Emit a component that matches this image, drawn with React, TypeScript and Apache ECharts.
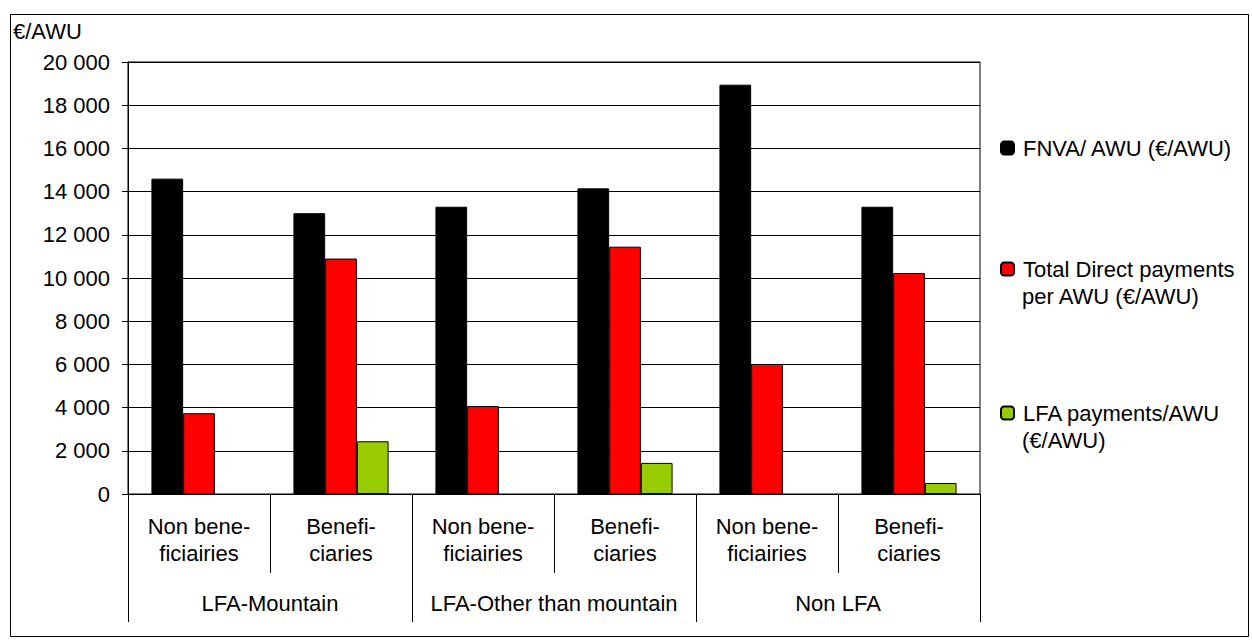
import React, { useEffect, useRef } from "react";
import * as echarts from "echarts";

const subCategories = [
  "Non bene-\nficiairies",
  "Benefi-\nciaries",
  "Non bene-\nficiairies",
  "Benefi-\nciaries",
  "Non bene-\nficiairies",
  "Benefi-\nciaries",
];
const groupCategories = ["LFA-Mountain", "LFA-Other than mountain", "Non LFA"];
const seriesNames = [
  "FNVA/ AWU (€/AWU)",
  "Total Direct payments per AWU (€/AWU)",
  "LFA payments/AWU (€/AWU)",
];
const fnvaValues = [14600, 13000, 13300, 14150, 18950, 13300];
const directValues = [3740, 10900, 4070, 11450, 6020, 10230];
const lfaValues = [null, 2440, null, 1440, null, 510];
const yTicks = { min: 0, max: 20000, interval: 2000 };
const unitLabel = "€/AWU";

const FONT = "'Liberation Sans', Arial, sans-serif";
const FS = 22;

export default function App() {
  const ref = useRef<HTMLDivElement>(null);
  useEffect(() => {
    document.body.style.margin = "0";
    if (!ref.current) return;
    const chart = echarts.init(ref.current, null, { renderer: "svg" });
    const fmt = (v: number) => String(v).replace(/\B(?=(\d{3})+(?!\d))/g, " ");
    const legendBase = {
      orient: "vertical",
      left: 1000,
      itemWidth: 13,
      itemHeight: 13,
      padding: 0,
      textStyle: { fontFamily: FONT, fontSize: FS, color: "#000", lineHeight: 27, padding: [0, 0, 0, 4] },
      selectedMode: false,
    };
    chart.setOption({
      animation: false,
      backgroundColor: "#fff",
      textStyle: { fontFamily: FONT },
      title: {
        text: unitLabel,
        left: 13,
        top: 20,
        padding: 0,
        textStyle: { fontFamily: FONT, fontSize: FS, fontWeight: "normal", color: "#000" },
      },
      grid: {
        left: 128,
        right: 272,
        top: 62,
        bottom: 146,
        show: true,
        borderColor: "#000",
        borderWidth: 1,
      },
      legend: [
        { ...legendBase, top: 134.5, data: [seriesNames[0]] },
        { ...legendBase, top: 255.5, data: [seriesNames[1]], formatter: () => "Total Direct payments" },
        { ...legendBase, top: 399.5, data: [seriesNames[2]], formatter: () => "LFA payments/AWU" },
      ],
      xAxis: [
        {
          type: "category",
          data: subCategories,
          position: "bottom",
          axisLine: { show: true, lineStyle: { color: "#000", width: 1 } },
          axisTick: { show: true, interval: 0, length: 79, lineStyle: { color: "#000" } },
          axisLabel: {
            interval: 0,
            margin: 19,
            fontFamily: FONT,
            fontSize: FS,
            color: "#000",
            lineHeight: 27,
          },
        },
        {
          type: "category",
          data: groupCategories,
          position: "bottom",
          axisLine: { show: false },
          axisTick: { show: true, interval: 0, length: 128, lineStyle: { color: "#000" } },
          axisLabel: {
            interval: 0,
            margin: 96,
            fontFamily: FONT,
            fontSize: FS,
            color: "#000",
            lineHeight: 27,
          },
        },
      ],
      yAxis: {
        type: "value",
        min: yTicks.min,
        max: yTicks.max,
        interval: yTicks.interval,
        axisLine: { show: true, lineStyle: { color: "#000" } },
        axisTick: { show: true, length: 6, lineStyle: { color: "#000" } },
        axisLabel: { margin: 18, fontFamily: FONT, fontSize: FS, color: "#000", formatter: fmt },
        splitLine: { show: true, lineStyle: { color: "#000", width: 1 } },
      },
      series: [
        {
          name: seriesNames[0],
          type: "bar",
          data: fnvaValues,
          barGap: "0%",
          barCategoryGap: "33%",
          itemStyle: { color: "#000000", borderColor: "#000", borderWidth: 1 },
        },
        {
          name: seriesNames[1],
          type: "bar",
          data: directValues,
          barGap: "0%",
          barCategoryGap: "33%",
          itemStyle: { color: "#FF0000", borderColor: "#000", borderWidth: 1 },
        },
        {
          name: seriesNames[2],
          type: "bar",
          data: lfaValues,
          barGap: "0%",
          barCategoryGap: "33%",
          itemStyle: { color: "#99CC00", borderColor: "#000", borderWidth: 1 },
        },
      ],
      graphic: [
        {
          type: "rect",
          shape: { x: 10.5, y: 14.5, width: 1238, height: 622 },
          style: { fill: "none", stroke: "#000", lineWidth: 1 },
          silent: true,
          z: -1,
        },
        {
          type: "text",
          x: 1022,
          y: 296,
          style: { text: "per AWU (€/AWU)", font: `${FS}px ${FONT}`, fill: "#000", textVerticalAlign: "middle" },
        },
        {
          type: "text",
          x: 1022,
          y: 440,
          style: { text: "(€/AWU)", font: `${FS}px ${FONT}`, fill: "#000", textVerticalAlign: "middle" },
        },
      ],
    });
    return () => chart.dispose();
  }, []);
  return <div ref={ref} style={{ width: 1252, height: 640 }} />;
}
